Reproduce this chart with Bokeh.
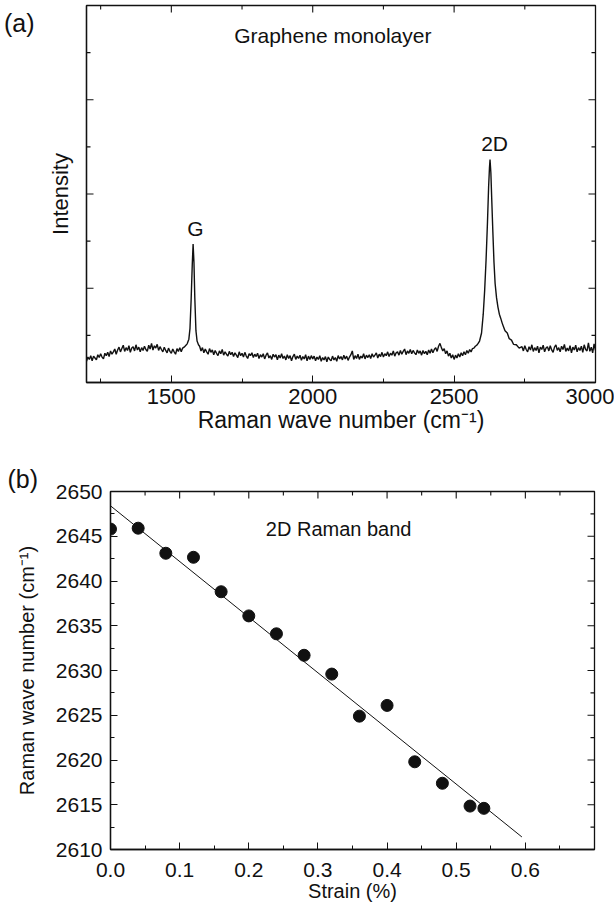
import math
from bokeh.plotting import figure
from bokeh.models import (Range1d, SingleIntervalTicker, FixedTicker, Label, Title,
                          LinearAxis, PrintfTickFormatter)
from bokeh.layouts import column
from bokeh.embed import file_html
from bokeh.resources import INLINE

FONT = "Liberation Sans"
INK = "#111111"

# ---- (a) Raman spectrum of a graphene monolayer ----
# baseline stretches are sampled every 5 cm-1, the two bands more finely
shift_low = list(range(1200, 1551, 5))
shift_g = [1556, 1562, 1566, 1570, 1574, 1577, 1580, 1583, 1587, 1591, 1596]
shift_mid = list(range(1600, 2591, 5))
shift_2d = [2597, 2603, 2608, 2613, 2618, 2622, 2625, 2627, 2630, 2633, 2637, 2641,
            2645, 2650, 2655, 2660, 2665, 2670, 2675, 2680, 2688, 2695, 2703, 2710,
            2720, 2730, 2740]
shift_high = list(range(2745, 3001, 5))

counts_low = [
    0.45, 0.54, 0.49, 0.57, 0.46, 0.56, 0.52, 0.48, 0.59, 0.53, 0.61, 0.54, 0.50, 0.62, 0.57, 0.64, 0.55, 0.67, 0.60, 0.65,
    0.71, 0.60, 0.69, 0.75, 0.65, 0.72, 0.79, 0.66, 0.74, 0.68, 0.78, 0.64, 0.73, 0.76, 0.67, 0.80, 0.69, 0.75, 0.65, 0.74,
    0.68, 0.77, 0.70, 0.66, 0.79, 0.71, 0.83, 0.69, 0.78, 0.73, 0.81, 0.68, 0.76, 0.70, 0.65, 0.75, 0.68, 0.63, 0.73, 0.66,
    0.62, 0.71, 0.65, 0.60, 0.72, 0.66, 0.74, 0.65, 0.73, 0.75, 0.78,
]
counts_g = [0.82, 0.92, 1.15, 1.75, 2.50, 2.94, 2.55, 1.80, 1.10, 0.88, 0.80]
counts_mid = [
    0.77, 0.67, 0.74, 0.63, 0.71, 0.65, 0.60, 0.72, 0.64, 0.69, 0.59, 0.68, 0.62, 0.57, 0.67, 0.61, 0.70, 0.58, 0.65, 0.60,
    0.56, 0.66, 0.59, 0.64, 0.55, 0.63, 0.58, 0.53, 0.65, 0.57, 0.62, 0.54, 0.64, 0.56, 0.51, 0.61, 0.57, 0.63, 0.53, 0.60,
    0.55, 0.62, 0.51, 0.59, 0.54, 0.61, 0.50, 0.58, 0.63, 0.52, 0.57, 0.49, 0.60, 0.54, 0.59, 0.48, 0.58, 0.52, 0.61, 0.51,
    0.56, 0.48, 0.59, 0.51, 0.57, 0.46, 0.55, 0.60, 0.49, 0.56, 0.51, 0.58, 0.47, 0.55, 0.50, 0.59, 0.46, 0.56, 0.49, 0.57,
    0.50, 0.56, 0.46, 0.54, 0.49, 0.57, 0.45, 0.53, 0.48, 0.55, 0.44, 0.54, 0.49, 0.46, 0.56, 0.48, 0.53, 0.45, 0.57, 0.50,
    0.55, 0.48, 0.58, 0.50, 0.56, 0.47, 0.54, 0.59, 0.67, 0.49, 0.57, 0.51, 0.60, 0.49, 0.56, 0.52, 0.61, 0.50, 0.58, 0.53,
    0.59, 0.51, 0.61, 0.54, 0.58, 0.63, 0.52, 0.60, 0.55, 0.64, 0.54, 0.61, 0.57, 0.65, 0.55, 0.62, 0.58, 0.67, 0.56, 0.63,
    0.65, 0.58, 0.68, 0.60, 0.66, 0.71, 0.59, 0.67, 0.62, 0.70, 0.61, 0.68, 0.63, 0.59, 0.69, 0.62, 0.67, 0.58, 0.68, 0.61,
    0.66, 0.59, 0.69, 0.62, 0.71, 0.63, 0.70, 0.74, 0.66, 0.77, 0.83, 0.74, 0.67, 0.72, 0.61, 0.67, 0.56, 0.62, 0.52, 0.59,
    0.49, 0.58, 0.52, 0.61, 0.54, 0.63, 0.57, 0.65, 0.59, 0.68, 0.62, 0.70, 0.65, 0.72, 0.73, 0.77, 0.79, 0.83, 0.88,
]
counts_2d = [1.05, 1.45, 1.95, 2.60, 3.40, 4.15, 4.55, 4.73, 4.45, 3.90, 3.20, 2.55,
             2.10, 1.80, 1.60, 1.45, 1.36, 1.26, 1.18, 1.10, 1.05, 0.93, 0.90, 0.81,
             0.80, 0.73, 0.76]
counts_high = [
    0.67, 0.78, 0.70, 0.65, 0.76, 0.69, 0.80, 0.66, 0.74, 0.68, 0.77, 0.63, 0.75, 0.70, 0.79, 0.65, 0.73, 0.76, 0.67, 0.78,
    0.69, 0.64, 0.75, 0.80, 0.68, 0.74, 0.65, 0.77, 0.70, 0.81, 0.66, 0.73, 0.67, 0.78, 0.63, 0.75, 0.69, 0.79, 0.65, 0.74,
    0.68, 0.77, 0.64, 0.80, 0.70, 0.67, 0.84, 0.66, 0.75, 0.63, 0.82, 0.68,
]

raman_shift = shift_low + shift_g + shift_mid + shift_2d + shift_high
intensity = counts_low + counts_g + counts_mid + counts_2d + counts_high

# ---- (b) 2D band position versus applied strain ----
strain = [0.00, 0.04, 0.08, 0.12, 0.16, 0.20, 0.24, 0.28,
          0.32, 0.36, 0.40, 0.44, 0.48, 0.52, 0.54]
band_2d = [2645.8, 2645.9, 2643.1, 2642.65, 2638.8, 2636.1, 2634.1, 2631.7,
           2629.6, 2624.9, 2626.1, 2619.8, 2617.4, 2614.85, 2614.6]
fit_strain = [0.0, 0.595]
fit_band = [2648.4, 2611.4]

# tick positions for the mirrored (unlabelled) frame edges
a_x_major = [1500, 2000, 2500]
a_x_minor = [1250, 1750, 2250, 2750]
a_y_major = [2, 4, 6]
a_y_minor = [1, 3, 5, 7]
b_x_major = [0.1, 0.2, 0.3, 0.4, 0.5, 0.6]
b_x_minor = [0.05, 0.15, 0.25, 0.35, 0.45, 0.55, 0.65]
b_y_major = [2615, 2620, 2625, 2630, 2635, 2640, 2645]
b_y_minor = [2612.5, 2617.5, 2622.5, 2627.5, 2632.5, 2637.5, 2642.5, 2647.5]

MAJOR_LEN = 7
MINOR_LEN = 4
TAG_PX = "25px"


def style_axis(ax, ticker, tick_px, title_px):
    ax.ticker = ticker
    ax.axis_line_color = INK
    ax.axis_line_width = 1.3
    ax.major_tick_line_color = INK
    ax.minor_tick_line_color = INK
    ax.major_tick_in = MAJOR_LEN
    ax.major_tick_out = 0
    ax.minor_tick_in = MINOR_LEN
    ax.minor_tick_out = 0
    ax.major_label_text_font = FONT
    ax.major_label_text_color = INK
    ax.major_label_text_font_size = f"{tick_px}px"
    ax.axis_label_text_font = FONT
    ax.axis_label_text_font_style = "normal"
    ax.axis_label_text_color = INK
    ax.axis_label_text_font_size = f"{title_px}px"


def edge_ticks(p, positions, side, length):
    """Inward tick marks on a frame edge; the half outside the frame is clipped."""
    n = len(positions)
    if side == "left":
        xs, ys, ang = [p.x_range.start] * n, positions, 0.0
    elif side == "right":
        xs, ys, ang = [p.x_range.end] * n, positions, 0.0
    else:  # top
        xs, ys, ang = positions, [p.y_range.end] * n, math.pi / 2
    p.scatter(xs, ys, marker="dash", size=2 * length, angle=ang,
              line_color=INK, line_width=1.1)


def base_figure(height, borders, xr, yr):
    top, right, bottom, left = borders
    p = figure(width=614, height=height, x_range=xr, y_range=yr,
               output_backend="svg", toolbar_location=None,
               min_border_top=top, min_border_right=right,
               min_border_bottom=bottom, min_border_left=left,
               frame_align=False)
    p.grid.visible = False
    p.outline_line_color = INK
    p.outline_line_width = 1.3
    p.background_fill_color = "white"
    p.border_fill_color = "white"
    return p


# Panel (a)
pa = base_figure(440, (5, 19, 58, 86), Range1d(1200, 3000), Range1d(0, 8))
style_axis(pa.xaxis[0], SingleIntervalTicker(interval=500, num_minor_ticks=2), 22, 23)
pa.xaxis[0].major_label_standoff = 6
pa.xaxis[0].axis_label = "Raman wave number (cm\u207b\u00b9)"
pa.xaxis[0].axis_label_standoff = 0
style_axis(pa.yaxis[0], FixedTicker(ticks=[]), 22, 22)
pa.yaxis[0].major_label_standoff = 0
pa.yaxis[0].axis_label = "Intensity"
pa.yaxis[0].axis_label_standoff = 14

# panel tag "(a)" sits beside the top of the frame, outside the left axis title
tag_y = 7.62
tag_axis = LinearAxis(ticker=FixedTicker(ticks=[tag_y]),
                      major_label_overrides={tag_y: "(a)"},
                      axis_line_color=None, major_tick_line_color=None,
                      minor_tick_line_color=None, major_label_standoff=4,
                      major_label_text_font=FONT, major_label_text_font_size=TAG_PX,
                      major_label_text_color=INK)
pa.add_layout(tag_axis, "left")

for side, major, minor in [("left", a_y_major, a_y_minor),
                           ("right", a_y_major, a_y_minor),
                           ("top", a_x_major, a_x_minor)]:
    edge_ticks(pa, major, side, MAJOR_LEN)
    edge_ticks(pa, minor, side, MINOR_LEN)

pa.line(raman_shift, intensity, line_color=INK, line_width=1.4)

for txt, x, y in [("Graphene monolayer", 2071, 7.36), ("G", 1585, 3.26), ("2D", 2643, 5.08)]:
    pa.add_layout(Label(x=x, y=y, text=txt, text_align="center", text_baseline="middle",
                        text_font=FONT, text_font_size="21px", text_color=INK))

# Panel (b)
pb = base_figure(469, (51, 20, 60, 110), Range1d(0, 0.7), Range1d(2610, 2650))
style_axis(pb.xaxis[0], SingleIntervalTicker(interval=0.1, num_minor_ticks=2), 21, 20)
pb.xaxis[0].formatter = PrintfTickFormatter(format="%.1f")
pb.xaxis[0].major_label_standoff = 13
pb.xaxis[0].axis_label = "Strain (%)"
pb.xaxis[0].axis_label_standoff = 0
style_axis(pb.yaxis[0], SingleIntervalTicker(interval=5, num_minor_ticks=2), 21, 20)
pb.yaxis[0].major_label_standoff = 8
pb.yaxis[0].axis_label = "Raman wave number (cm\u207b\u00b9)"
pb.yaxis[0].axis_label_standoff = 15

pb.add_layout(Title(text="(b)", align="left", offset=-103, standoff=-3,
                    text_font=FONT, text_font_size=TAG_PX, text_font_style="normal",
                    text_color=INK), "above")

for side, major, minor in [("right", b_y_major, b_y_minor),
                           ("top", b_x_major, b_x_minor)]:
    edge_ticks(pb, major, side, MAJOR_LEN)
    edge_ticks(pb, minor, side, MINOR_LEN)

pb.line(fit_strain, fit_band, line_color=INK, line_width=1.0)
pb.scatter(strain, band_2d, size=12, marker="circle", fill_color=INK, line_color=INK)

pb.add_layout(Label(x=0.33, y=2645.8, text="2D Raman band", text_align="center",
                    text_baseline="middle", text_font=FONT, text_font_size="20px",
                    text_color=INK))

page = column(pa, pb, spacing=0)
open("out.html", "w").write(file_html(page, INLINE))
